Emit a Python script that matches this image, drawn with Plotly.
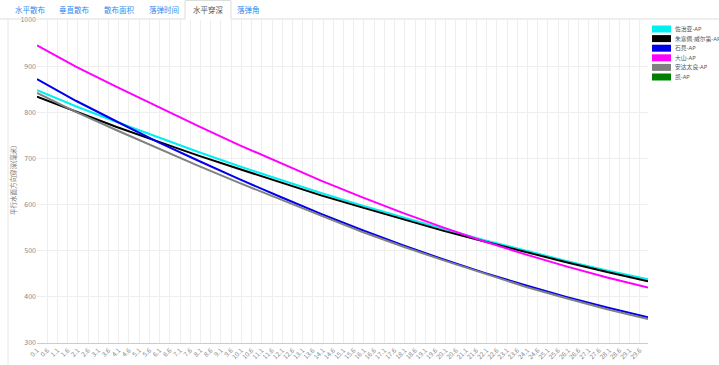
import plotly.graph_objects as go

# ---- data ----
distance_km = [0.1, 2, 4, 6, 8, 10, 12, 14, 16, 18, 20, 22, 24, 26, 28, 30.0]
georgia = [848, 813, 779, 746, 714, 683, 654, 625, 598, 572, 547, 523, 500, 478, 457, 438]
giuseppe = [834, 801, 768, 737, 706, 677, 648, 620, 594, 568, 543, 520, 497, 475, 454, 434]
iwami = [872, 825, 780, 736, 695, 655, 617, 580, 545, 512, 481, 452, 425, 400, 377, 356]
oyama = [945, 899, 855, 812, 770, 729, 690, 652, 616, 582, 550, 520, 492, 466, 442, 420]
adatara = [842, 801, 761, 722, 684, 647, 611, 576, 541, 509, 479, 450, 422, 397, 373, 352]
kai = []

series_names = ["佐治亚-AP", "朱塞佩·威尔第-AP", "石見-AP", "大山-AP", "安达太良-AP", "凯-AP"]
series_values = [georgia, giuseppe, iwami, oyama, adatara, kai]
series_colors = ["#00f0f0", "#000000", "#0000ee", "#ff00ff", "#808080", "#008000"]

tick_labels = ["%.1f" % (0.1 + 0.5 * i) for i in range(60)]
tick_vals = [0.1 + 0.5 * i for i in range(60)]

tabs = ["水平散布", "垂直散布", "散布面积", "落弹时间", "水平穿深", "落弹角"]
active_tab = "水平穿深"
y_title = "平行水面方向穿深(毫米)"

# ---- layout geometry (pixels) ----
W, H = 719, 365
L, R, T, B = 37, 648, 20, 343
def px(x):
    return (x - L) / (R - L)
def py(y):
    return (B - y) / (B - T)

FONT = "Noto Sans CJK SC, Noto Sans, sans-serif"
LEG_FONT = "Noto Sans, Noto Sans CJK SC, sans-serif"

fig = go.Figure()
for name, vals, col in zip(series_names, series_values, series_colors):
    xs = distance_km[:len(vals)]
    fig.add_trace(go.Scatter(x=xs, y=vals, mode="lines", name=name,
                             line=dict(color=col, width=2), showlegend=False))

shapes = []
annotations = []

# tabs
tab_x = [30, 74, 119, 164, 208, 249]
for t, cx in zip(tabs, tab_x):
    annotations.append(dict(text=t, x=px(cx), y=py(9), xref="paper", yref="paper",
                            showarrow=False, xanchor="center", yanchor="middle",
                            font=dict(family=FONT, size=7.5,
                                      color="#555555" if t == active_tab else "#2d8cf0")))
# tab bar border
shapes.append(dict(type="line", xref="paper", yref="paper", x0=px(0), x1=px(185), y0=py(19), y1=py(19),
                   line=dict(color="#dddddd", width=1)))
shapes.append(dict(type="line", xref="paper", yref="paper", x0=px(231), x1=px(W), y0=py(19), y1=py(19),
                   line=dict(color="#dddddd", width=1)))
shapes.append(dict(type="path", xref="paper", yref="paper",
                   path="M %f,%f L %f,%f L %f,%f L %f,%f" % (px(185), py(19), px(185), py(0.5),
                                                              px(231), py(0.5), px(231), py(19)),
                   line=dict(color="#dddddd", width=1)))
# left panel border
shapes.append(dict(type="line", xref="paper", yref="paper", x0=px(8), x1=px(8), y0=py(19), y1=py(H),
                   line=dict(color="#e6e6e6", width=1)))

# y title
annotations.append(dict(text=y_title, x=px(13), y=py(181), xref="paper", yref="paper",
                        showarrow=False, textangle=-90, xanchor="center", yanchor="middle",
                        font=dict(family=FONT, size=6.5, color="#777777")))

# legend (manual)
for i, (name, col) in enumerate(zip(series_names, series_colors)):
    yc = 29 + 9.6 * i
    shapes.append(dict(type="rect", xref="paper", yref="paper",
                       x0=px(652), x1=px(671), y0=py(yc - 3.5), y1=py(yc + 3.5),
                       fillcolor=col, line=dict(width=0)))
    annotations.append(dict(text=name, x=px(673), y=py(yc), xref="paper", yref="paper",
                            showarrow=False, xanchor="left", yanchor="middle",
                            font=dict(family=LEG_FONT, size=5.8, color="#555555")))

fig.update_layout(
    width=W, height=H,
    margin=dict(l=L, r=W - R, t=T, b=H - B, autoexpand=False),
    paper_bgcolor="white", plot_bgcolor="white",
    font=dict(family=FONT, size=7, color="#777777"),
    shapes=shapes, annotations=annotations,
    showlegend=False,
)
fig.update_xaxes(range=[0.1, 30.0], tickvals=tick_vals, ticktext=tick_labels, tickangle=-45,
                 showgrid=True, gridcolor="#eeeeee", gridwidth=1, zeroline=False,
                 showline=True, linecolor="#cccccc", linewidth=1, ticks="",
                 tickfont=dict(size=6.5, color="#888888"), automargin=False)
fig.update_yaxes(range=[300, 1000], dtick=100, showgrid=True, gridcolor="#eeeeee", zeroline=False,
                 showline=False, ticks="", tickfont=dict(size=7, color="#888888"), automargin=False)

fig.write_html("out.html")
